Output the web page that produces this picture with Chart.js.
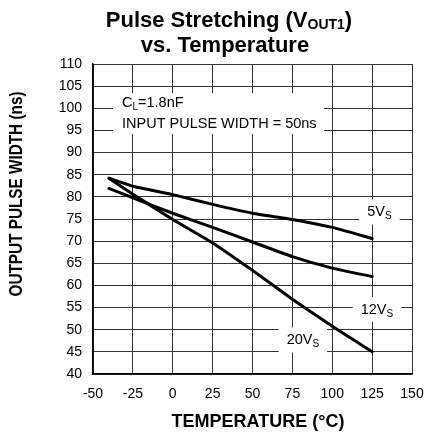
<!DOCTYPE html>
<html>
<head>
<meta charset="utf-8">
<script src="https://cdn.jsdelivr.net/npm/chart.js@4"></script>
<style>
  body { margin: 0; background: #fff; }
</style>
</head>
<body>
<canvas id="myChart" width="425" height="432"></canvas>
<script>

// temperature points (°C) and output pulse width (ns) per supply voltage
var temps = [-40, -25, 0, 25, 50, 75, 100, 125];
var width5V = [84.2, 82.4, 80.5, 78.3, 76.3, 74.9, 73.1, 70.6];
var width12V = [81.9, 79.8, 76.3, 73.1, 69.8, 66.5, 63.9, 62.0];
var width20V = [84.2, 80.6, 74.9, 69.6, 63.4, 56.9, 50.8, 45.0];

var xTicks = [-50, -25, 0, 25, 50, 75, 100, 125, 150];
var yTicks = [40, 45, 50, 55, 60, 65, 70, 75, 80, 85, 90, 95, 100, 105, 110];

// where each curve name sits (x in °C, y in ns)
var curveNames = [
    { main: '5V', sub: 'S', x: 129.6, y: 76.7 },
    { main: '12V', sub: 'S', x: 128, y: 54.7 },
    { main: '20V', sub: 'S', x: 81.6, y: 47.8 }
];

const FONT = 'Arial, "Liberation Sans", Helvetica, sans-serif';

function pairs(ys) {
    return temps.map((t, i) => ({ x: t, y: ys[i] }));
}

// text followed by a lowered, smaller part (V + S, C + L ...)
function drawSub(ctx, main, sub, x, y, size, subSize, drop, align, bold) {
    const w = bold ? 'bold ' : '';
    ctx.font = w + size + 'px ' + FONT;
    const w1 = ctx.measureText(main).width;
    ctx.font = w + subSize + 'px ' + FONT;
    const w2 = ctx.measureText(sub).width;
    let left = x;
    if (align === 'center') left = x - (w1 + w2) / 2;
    ctx.textAlign = 'left';
    ctx.textBaseline = 'alphabetic';
    ctx.font = w + size + 'px ' + FONT;
    ctx.fillText(main, left, y);
    ctx.font = w + subSize + 'px ' + FONT;
    ctx.fillText(sub, left + w1, y + drop);
    return left + w1 + w2;
}

const textPlugin = {
    id: 'textPlugin',
    afterDraw(chart) {
        const ctx = chart.ctx;
        const xs = chart.scales.x, ys = chart.scales.y;
        ctx.save();
        ctx.fillStyle = '#000';

        // title, two lines
        ctx.font = 'bold 22px ' + FONT;
        const wa = ctx.measureText('Pulse Stretching (V').width;
        const wc = ctx.measureText(')').width;
        ctx.font = 'bold 14px ' + FONT;
        const wb = ctx.measureText('OUT1').width;
        let end = drawSub(ctx, 'Pulse Stretching (V', 'OUT1', 229 - (wa + wb + wc) / 2, 27, 22, 14, 2, 'left', true);
        ctx.font = 'bold 22px ' + FONT;
        ctx.fillText(')', end, 27);
        ctx.textAlign = 'center';
        ctx.fillText('vs. Temperature', 225, 52);

        // axis titles
        ctx.font = 'bold 18px ' + FONT;
        ctx.textAlign = 'center';
        ctx.fillText('TEMPERATURE (°C)', 258, 427);

        const yTitle = 'OUTPUT PULSE WIDTH (ns)';
        ctx.save();
        ctx.translate(17, 194);
        ctx.rotate(-Math.PI / 2);
        const tw = ctx.measureText(yTitle).width;
        ctx.scale(205 / tw, 1);
        ctx.textBaseline = 'middle';
        ctx.fillText(yTitle, 0, 0);
        ctx.restore();

        // conditions box
        ctx.fillStyle = '#fff';
        ctx.fillRect(113, 93, 211, 41);
        ctx.fillStyle = '#000';
        end = drawSub(ctx, 'C', 'L', 122, 107, 14.5, 10, 3, 'left', false);
        ctx.font = '14.5px ' + FONT;
        ctx.fillText('=1.8nF', end, 107);
        ctx.fillText('INPUT PULSE WIDTH = 50ns', 122, 128);

        // curve names on white patches
        curveNames.forEach(n => {
            const px = xs.getPixelForValue(n.x);
            const py = ys.getPixelForValue(n.y);
            ctx.font = '14.5px ' + FONT;
            const w1 = ctx.measureText(n.main).width;
            ctx.font = '10px ' + FONT;
            const w2 = ctx.measureText(n.sub).width;
            const lw = w1 + w2;
            ctx.fillStyle = '#fff';
            ctx.fillRect(px - lw / 2 - 8, py - 12, lw + 16, 25);
            ctx.fillStyle = '#000';
            drawSub(ctx, n.main, n.sub, px, py + 5, 14.5, 10, 3, 'center', false);
        });
        ctx.restore();
    }
};

const lineStyle = {
    borderColor: '#000',
    borderWidth: 3,
    pointRadius: 0,
    tension: 0.15,
    borderCapStyle: 'round',
    fill: false
};

const data = {
    datasets: [
        Object.assign({ label: '5VS', data: pairs(width5V) }, lineStyle),
        Object.assign({ label: '12VS', data: pairs(width12V) }, lineStyle),
        Object.assign({ label: '20VS', data: pairs(width20V) }, lineStyle)
    ]
};

const config = {
    type: 'line',
    data,
    options: {
        responsive: false,
        animation: false,
        devicePixelRatio: 1,
        layout: { padding: { top: 64, right: 13, bottom: 0, left: 0 } },
        plugins: {
            legend: { display: false },
            tooltip: { enabled: false }
        },
        scales: {
            x: {
                type: 'linear',
                min: -50,
                max: 150,
                afterBuildTicks: s => { s.ticks = xTicks.map(v => ({ value: v })); },
                afterFit: s => {
                    s.height = 58;
                    s.paddingLeft = 0;
                    s.paddingRight = 0;
                },
                ticks: { color: '#000', font: { family: FONT, size: 14 }, padding: 12, maxRotation: 0 },
                grid: { color: '#333', lineWidth: 1, drawTicks: false },
                border: { color: '#000', width: 1.5 }
            },
            y: {
                min: 40,
                max: 110,
                afterBuildTicks: s => { s.ticks = yTicks.map(v => ({ value: v })); },
                afterFit: s => { s.width = 93; },
                ticks: { color: '#000', font: { family: FONT, size: 14 }, padding: 11 },
                grid: { color: '#333', lineWidth: 1, drawTicks: false },
                border: { color: '#000', width: 1.5 }
            }
        }
    },
    plugins: [textPlugin]
};

var myChart = new Chart(document.getElementById('myChart'), config);
</script>
</body>
</html>
